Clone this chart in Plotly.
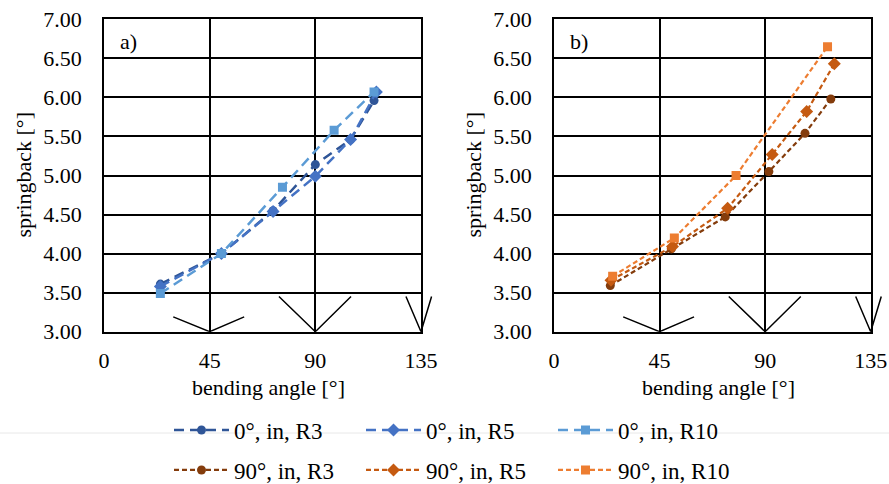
import plotly.graph_objects as go

# ---------------- data ----------------
# panel a) 0° orientation
ang_a_r3 = [24, 50, 72, 90, 105, 115]
sb_a_r3 = [3.61, 4.00, 4.55, 5.14, 5.46, 5.96]
ang_a_r5 = [24, 50, 72, 90, 105, 116]
sb_a_r5 = [3.58, 4.00, 4.54, 4.99, 5.46, 6.07]
ang_a_r10 = [24, 50, 76, 98, 115]
sb_a_r10 = [3.49, 4.00, 4.85, 5.58, 6.07]

# panel b) 90° orientation
ang_b_r3 = [24, 50, 73, 91.6, 107, 118]
sb_b_r3 = [3.59, 4.06, 4.47, 5.05, 5.54, 5.98]
ang_b_r5 = [24.3, 50.5, 74, 93, 107.7, 119.5]
sb_b_r5 = [3.66, 4.09, 4.58, 5.27, 5.82, 6.43]
ang_b_r10 = [25, 51.3, 77.6, 116.6]
sb_b_r10 = [3.71, 4.20, 5.00, 6.65]

# decorative bend-angle "V" marks at the bottom of each panel
v_x = [29.5, 45, 59.7, None, 74.5, 90, 105.2, None, 128.6, 135, 139.5]
v_y = [3.19, 3.00, 3.19, None, 3.45, 3.00, 3.45, None, 3.45, 3.00, 3.45]

x_ticks = [0, 45, 90, 135]
y_ticks = [3.0, 3.5, 4.0, 4.5, 5.0, 5.5, 6.0, 6.5, 7.0]

names_a = ["0°, in, R3", "0°, in, R5", "0°, in, R10"]
names_b = ["90°, in, R3", "90°, in, R5", "90°, in, R10"]
colors_a = ["#2F5597", "#4472C4", "#5B9BD5"]
colors_b = ["#843C0C", "#C55A11", "#ED7D31"]
symbols = ["circle", "diamond", "square"]

FONT = "Liberation Serif, Times New Roman, DejaVu Serif, serif"
W, H = 889, 484

fig = go.Figure()

series_a = [(ang_a_r3, sb_a_r3), (ang_a_r5, sb_a_r5), (ang_a_r10, sb_a_r10)]
series_b = [(ang_b_r3, sb_b_r3), (ang_b_r5, sb_b_r5), (ang_b_r10, sb_b_r10)]

for (xs, ys), nm, c, s in zip(series_a, names_a, colors_a, symbols):
    fig.add_trace(go.Scatter(
        x=xs, y=ys, name=nm, mode="lines+markers",
        line=dict(color=c, width=2.5, dash="10px,6px"),
        marker=dict(symbol=s, size=9 if s != "diamond" else 10, color=c),
        xaxis="x", yaxis="y", legend="legend"))

for (xs, ys), nm, c, s in zip(series_b, names_b, colors_b, symbols):
    fig.add_trace(go.Scatter(
        x=xs, y=ys, name=nm, mode="lines+markers",
        line=dict(color=c, width=2.2, dash="5px,3px"),
        marker=dict(symbol=s, size=9 if s != "diamond" else 10, color=c),
        xaxis="x2", yaxis="y2", legend="legend2"))

# V marks on extended (invisible) axes so the last arm may leave the frame
fig.add_trace(go.Scatter(x=v_x, y=v_y, mode="lines", showlegend=False,
                         line=dict(color="black", width=1.5),
                         xaxis="x3", yaxis="y3", hoverinfo="skip"))
fig.add_trace(go.Scatter(x=v_x, y=v_y, mode="lines", showlegend=False,
                         line=dict(color="black", width=1.5),
                         xaxis="x4", yaxis="y4", hoverinfo="skip"))

xa = [104 / W, 421 / W]
xb = [554 / W, 870.7 / W]
yd = [1 - 331.7 / H, 1 - 19.3 / H]
ext = 140 / 135
xa_ext = [xa[0], xa[0] + (xa[1] - xa[0]) * ext]
xb_ext = [xb[0], xb[0] + (xb[1] - xb[0]) * ext]

tickfont = dict(family=FONT, size=22, color="black")

def xaxis(domain, anchor):
    return dict(domain=domain, anchor=anchor, range=[0, 135], automargin=False,
                tickvals=x_ticks, ticktext=[str(v) for v in x_ticks],
                showgrid=True, gridcolor="black", gridwidth=1.5,
                showline=True, mirror=True, linecolor="black", linewidth=1.5,
                zeroline=False, ticks="outside", ticklen=8,
                tickcolor="rgba(0,0,0,0)", tickfont=tickfont)

def yaxis(domain, anchor):
    return dict(domain=domain, anchor=anchor, range=[3, 7], automargin=False,
                tickvals=y_ticks, ticktext=[f"{v:.2f}" for v in y_ticks],
                showgrid=True, gridcolor="black", gridwidth=1.5,
                showline=True, mirror=True, linecolor="black", linewidth=1.5,
                zeroline=False, ticks="outside", ticklen=16,
                tickcolor="rgba(0,0,0,0)", tickfont=tickfont)

def hidden(domain, rng, anchor):
    return dict(domain=domain, range=rng, anchor=anchor, visible=False,
                automargin=False, showgrid=False, zeroline=False, fixedrange=True)

legfont = dict(family=FONT, size=23, color="black")

def legend(ypx):
    return dict(orientation="h", x=169 / W, xanchor="left",
                y=1 - ypx / H, yanchor="middle", font=legfont,
                xref="container", yref="container",
                bgcolor="rgba(0,0,0,0)", itemwidth=55,
                entrywidth=122, entrywidthmode="pixels")

fig.update_layout(
    width=W, height=H,
    margin=dict(l=0, r=0, t=0, b=0, autoexpand=False),
    paper_bgcolor="white", plot_bgcolor="rgba(0,0,0,0)",
    font=dict(family=FONT, color="black"),
    xaxis=xaxis(xa, "y"), yaxis=yaxis(yd, "x"),
    xaxis2=xaxis(xb, "y2"), yaxis2=yaxis(yd, "x2"),
    xaxis3=hidden(xa_ext, [0, 140], "y3"), yaxis3=hidden(yd, [3, 7], "x3"),
    xaxis4=hidden(xb_ext, [0, 140], "y4"), yaxis4=hidden(yd, [3, 7], "x4"),
    legend=legend(430),
    legend2=legend(470),
    showlegend=True,
)

ann_font = dict(family=FONT, size=22, color="black")
fig.add_annotation(text="a)", x=6, y=6.72, xref="x", yref="y",
                   xanchor="left", yanchor="middle", showarrow=False, font=ann_font)
fig.add_annotation(text="b)", x=6, y=6.72, xref="x2", yref="y2",
                   xanchor="left", yanchor="middle", showarrow=False, font=ann_font)
for px in (23, 473):
    fig.add_annotation(text="springback [°]", x=px / W, y=1 - 175.5 / H,
                       xref="paper", yref="paper", textangle=-90,
                       xanchor="center", yanchor="middle", showarrow=False,
                       font=ann_font)
for px in (268, 718):
    fig.add_annotation(text="bending angle [°]", x=px / W, y=1 - 387 / H,
                       xref="paper", yref="paper", xanchor="center",
                       yanchor="middle", showarrow=False, font=ann_font)

fig.add_shape(type="line", xref="paper", yref="paper", x0=0, x1=1,
              y0=1 - 433 / H, y1=1 - 433 / H,
              line=dict(color="#e8e8e8", width=1), layer="below")

fig.write_html("out.html",
               config={"displayModeBar": False},
               post_script="document.body.style.margin='0';"
                           "document.body.style.padding='0';"
                           "document.body.style.overflow='hidden';")
